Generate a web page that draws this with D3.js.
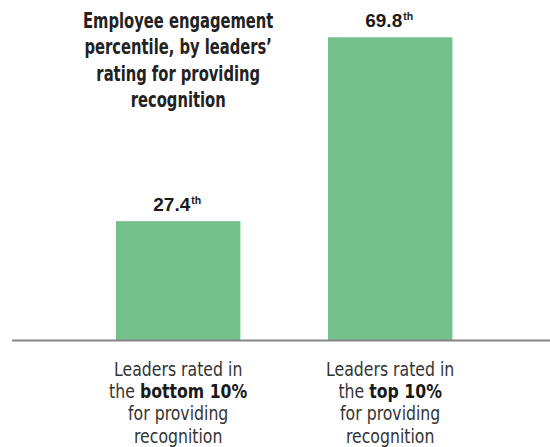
<!DOCTYPE html>
<html>
<head>
<meta charset="utf-8">
<script src="https://cdn.jsdelivr.net/npm/d3@7"></script>
<style>
  html, body { margin: 0; padding: 0; background: #fff; }
  svg { display: block; }
</style>
</head>
<body>
<svg id="chart" width="550" height="447"></svg>
<script>
// ---- data ----
const categories = ["bottom", "top"];
const values = [27.4, 69.8];
const valueSuffix = ["th", "th"];
const categoryLabels = [
  [[["Leaders rated in", false]], [["the ", false], ["bottom 10%", true]], [["for providing", false]], [["recognition", false]]],
  [[["Leaders rated in", false]], [["the ", false], ["top 10%", true]], [["for providing", false]], [["recognition", false]]]
];
const titleLines = ["Employee engagement", "percentile, by leaders\u2019", "rating for providing", "recognition"];

// ---- layout ----
const W = 550, H = 447;
const baseY = 340;
const svg = d3.select("#chart");
const condensed = "'DejaVu Sans Condensed', 'DejaVu Sans', sans-serif";

const x = d3.scaleBand().domain(categories).range([116, 452.4]).paddingInner(0.413).paddingOuter(0);
const y = d3.scaleLinear().domain([0, 70]).range([baseY, 36.4]);

// bars
svg.selectAll("rect.bar").data(values).join("rect")
  .attr("class", "bar")
  .attr("x", (d, i) => x(categories[i]))
  .attr("y", d => y(d))
  .attr("width", x.bandwidth())
  .attr("height", d => baseY - y(d))
  .attr("fill", "#74c18b");

// baseline axis
svg.append("line")
  .attr("x1", 12).attr("x2", W)
  .attr("y1", baseY + 0.5).attr("y2", baseY + 0.5)
  .attr("stroke", "#858585").attr("stroke-width", 2);

// value labels
const vl = svg.selectAll("text.val").data(values).join("text")
  .attr("class", "val")
  .attr("x", (d, i) => x(categories[i]) + x.bandwidth() / 2 - 1)
  .attr("y", d => y(d) - 10)
  .attr("text-anchor", "middle")
  .attr("font-family", "'Liberation Sans', Arial, sans-serif")
  .attr("font-weight", "bold")
  .attr("font-size", 19)
  .attr("fill", "#1a1a1a");
vl.append("tspan").text(d => d3.format(".1f")(d));
vl.append("tspan").attr("font-size", 10.5).attr("dy", -7).attr("dx", 1).text((d, i) => valueSuffix[i]);

// title (centred over first bar)
const tcx = x(categories[0]) + x.bandwidth() / 2;
const tg = svg.append("g").attr("transform", `translate(${tcx},0) scale(0.8,1)`);
const title = tg.append("text")
  .attr("text-anchor", "middle")
  .attr("font-family", condensed)
  .attr("font-weight", "bold")
  .attr("font-size", 20.5)
  .attr("fill", "#222");
titleLines.forEach((t, i) => {
  title.append("tspan").attr("x", 0).attr("y", 28 + i * 26.4).text(t);
});

// category labels
categoryLabels.forEach((lines, ci) => {
  const cx = x(categories[ci]) + x.bandwidth() / 2;
  const g = svg.append("g").attr("transform", `translate(${cx},0) scale(0.92,1)`);
  const t = g.append("text")
    .attr("text-anchor", "middle")
    .attr("font-family", condensed)
    .attr("font-size", 19)
    .attr("fill", "#333");
  lines.forEach((parts, li) => {
    const line = t.append("tspan").attr("x", 0).attr("y", 376 + li * 22.2);
    parts.forEach(([txt, bold]) => {
      line.append("tspan").attr("font-weight", bold ? "bold" : "normal")
        .attr("fill", bold ? "#1a1a1a" : "#333").text(txt);
    });
  });
});
</script>
</body>
</html>
